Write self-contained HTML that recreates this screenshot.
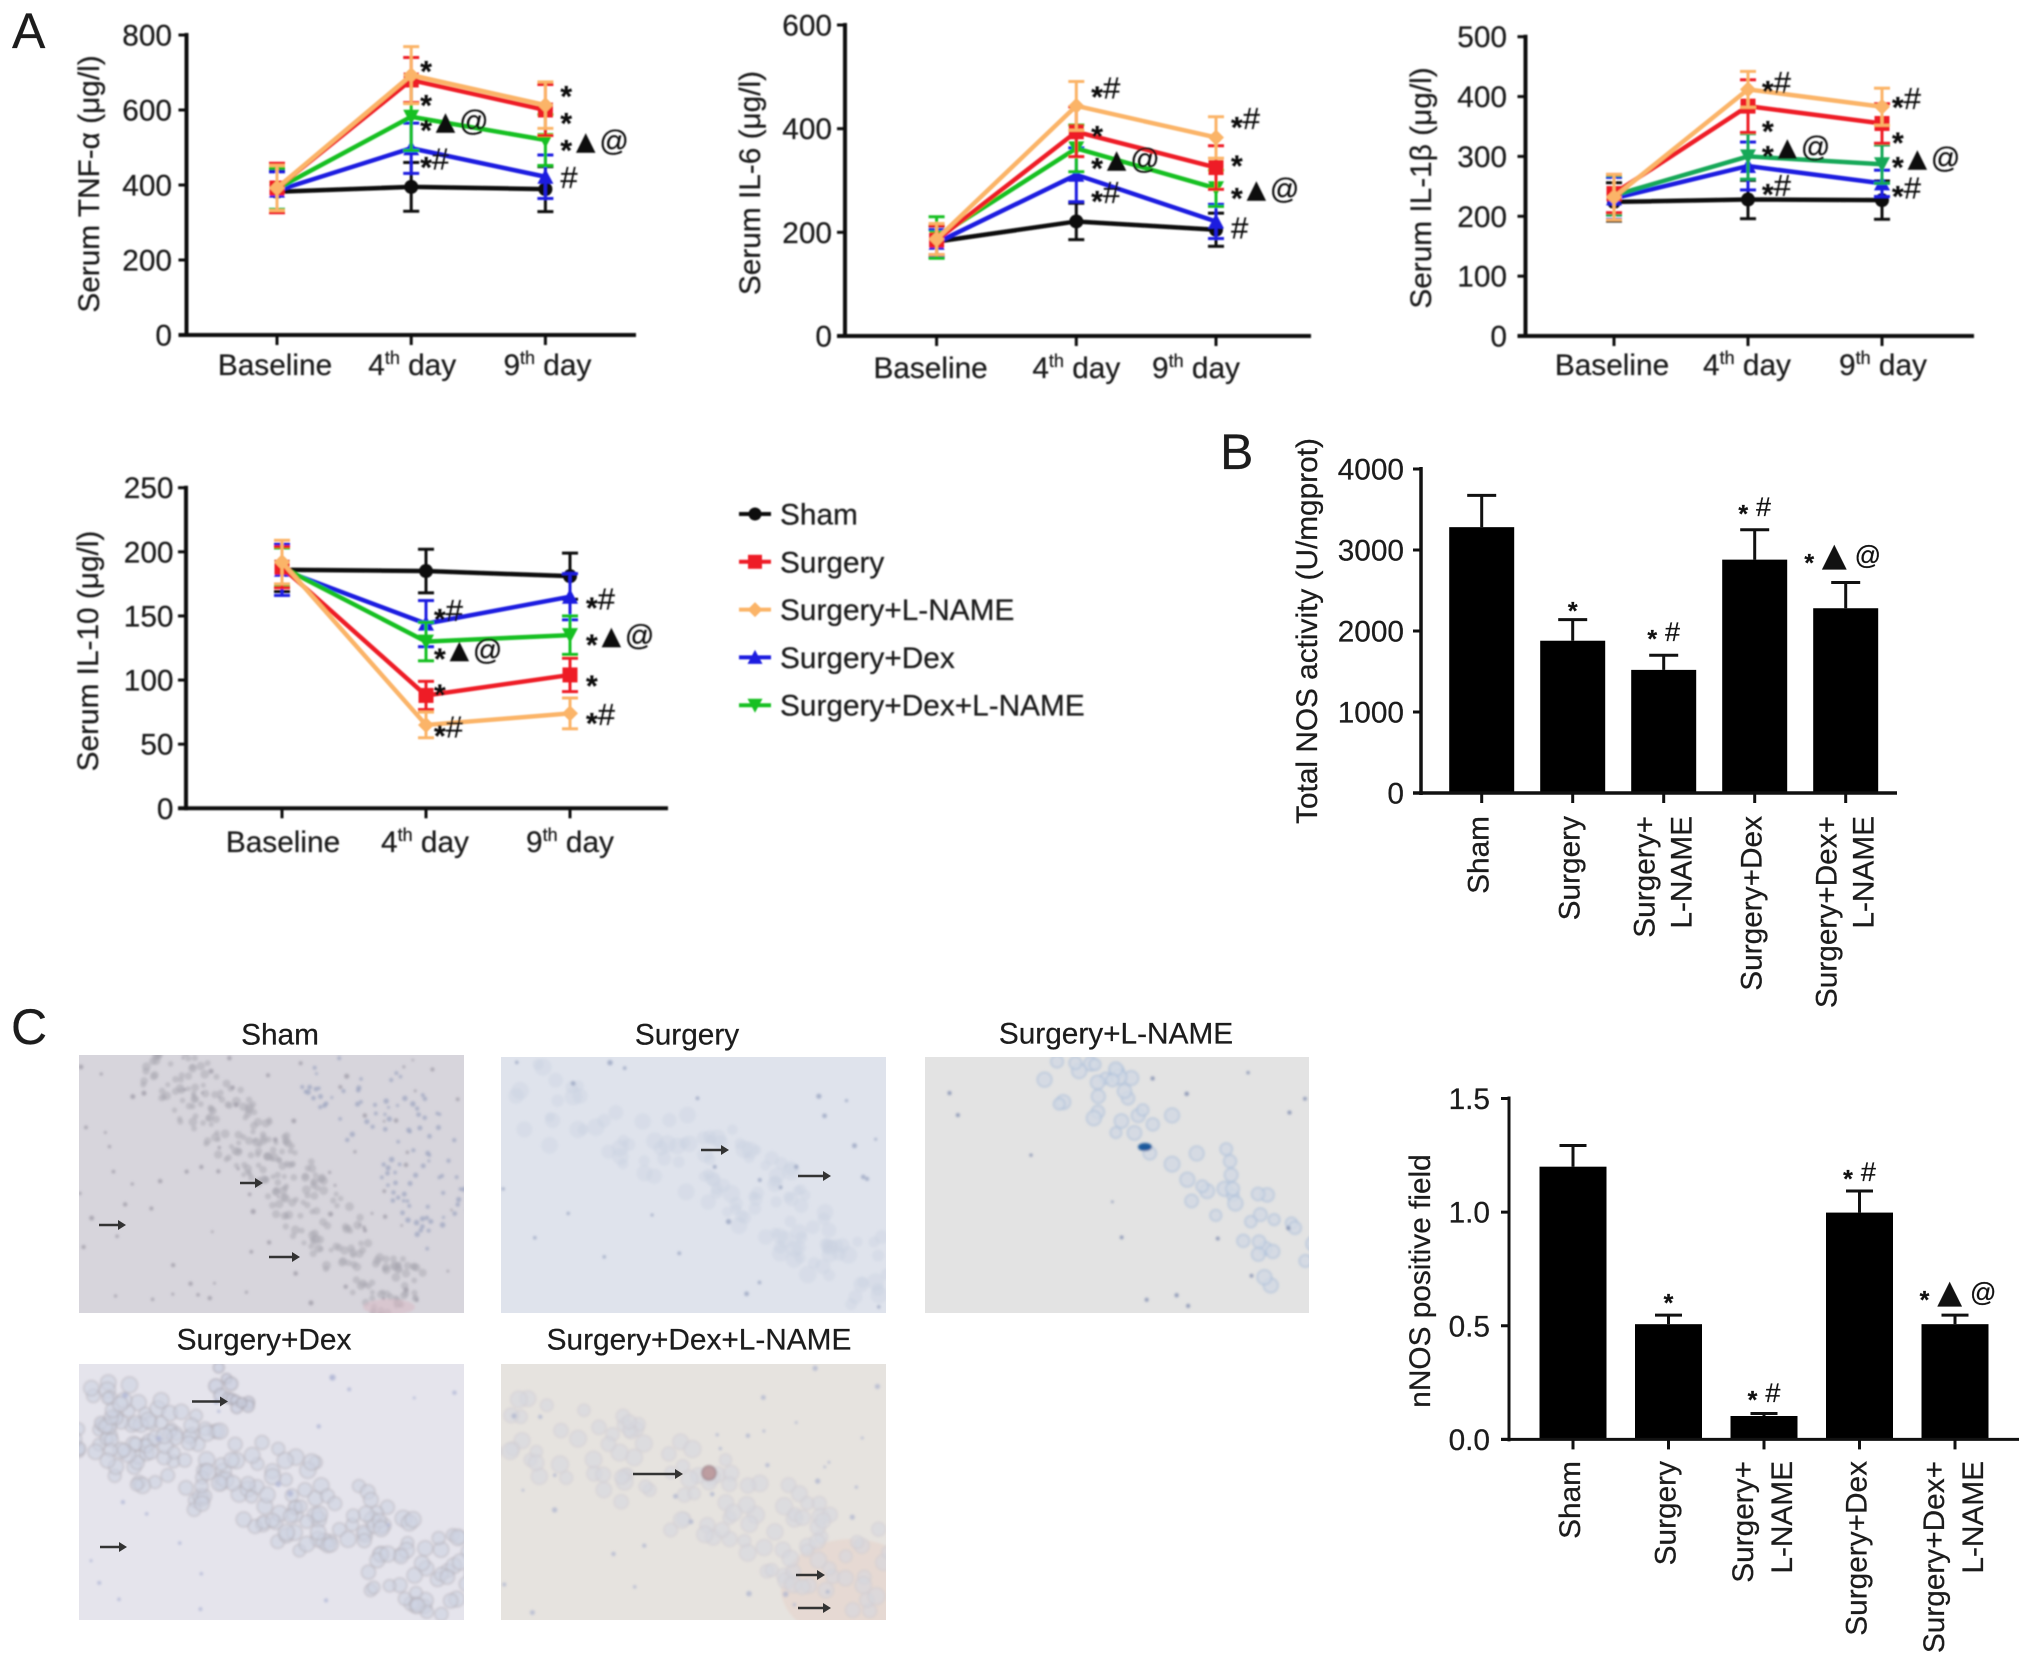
<!DOCTYPE html>
<html lang="en">
<head>
<meta charset="utf-8">
<title>Serum cytokines, NOS activity and nNOS staining</title>
<style>
html,body{margin:0;padding:0;background:#fff;width:2032px;height:1664px;overflow:hidden}
svg{display:block}
text{font-family:"Liberation Sans",Arial,sans-serif;fill:#1c1c1c;stroke:#1c1c1c;stroke-width:0.25px}
</style>
</head>
<body>
<svg id="figure" xmlns="http://www.w3.org/2000/svg" width="2032" height="1664" viewBox="0 0 2032 1664">
<defs>
<filter id="soft" x="-5%" y="-5%" width="110%" height="110%"><feGaussianBlur stdDeviation="0.7"/></filter>
<filter id="softer" x="-5%" y="-5%" width="110%" height="110%"><feGaussianBlur stdDeviation="1.2"/></filter>
</defs>
<rect width="2032" height="1664" fill="#fff"/>
<text x="12" y="48" font-size="50" fill="#111">A</text>
<text x="1220" y="469" font-size="50" fill="#111">B</text>
<text x="11" y="1044" font-size="50" fill="#111">C</text>
</svg>
<script>
// ---------- chart data ----------
const lineCategories = ['Baseline', '4th day', '9th day'];
const seriesNames = ['Sham', 'Surgery', 'Surgery+L-NAME', 'Surgery+Dex', 'Surgery+Dex+L-NAME'];

const tnfTicks = [0, 200, 400, 600, 800];
const tnfSham = [382, 395, 389];
const tnfShamErr = [55, 65, 60];
const tnfSurgery = [392, 680, 600];
const tnfSurgeryErr = [66, 60, 68];
const tnfLname = [392, 693, 613];
const tnfLnameErr = [60, 76, 62];
const tnfDex = [385, 498, 422];
const tnfDexErr = [50, 67, 58];
const tnfDexLname = [390, 582, 520];
const tnfDexLnameErr = [55, 90, 68];
const tnfNotes = [[1, 725, '*'], [1, 635, '*'], [1, 568, '*▲@'], [1, 469, '*#'], [2, 659, '*'], [2, 587, '*'], [2, 515, '*▲@'], [2, 419, '#']];

const il6Ticks = [0, 200, 400, 600];
const il6Sham = [182, 221, 205];
const il6ShamErr = [30, 35, 32];
const il6Surgery = [185, 394, 325];
const il6SurgeryErr = [28, 48, 42];
const il6Lname = [187, 444, 383];
const il6LnameErr = [30, 47, 40];
const il6Dex = [180, 311, 221];
const il6DexErr = [25, 52, 33];
const il6DexLname = [190, 362, 285];
const il6DexLnameErr = [40, 45, 35];
const il6Notes = [[1, 478, '*#'], [1, 401, '*'], [1, 340, '*▲@'], [1, 276, '*#'], [2, 419, '*#'], [2, 345, '*'], [2, 282, '*▲@'], [2, 208, '#']];

const il1Ticks = [0, 100, 200, 300, 400, 500];
const il1Sham = [224, 228, 227];
const il1ShamErr = [32, 32, 32];
const il1Surgery = [238, 384, 355];
const il1SurgeryErr = [32, 44, 33];
const il1Lname = [232, 412, 383];
const il1LnameErr = [38, 30, 31];
const il1Dex = [230, 284, 255];
const il1DexErr = [35, 40, 22];
const il1DexLname = [235, 300, 287];
const il1DexLnameErr = [33, 38, 32];
const il1Notes = [[1, 423, '*#'], [1, 356, '*'], [1, 314, '*▲@'], [1, 251, '*#'], [2, 396, '*#'], [2, 337, '*'], [2, 296, '*▲@'], [2, 247, '*#']];

const il10Ticks = [0, 50, 100, 150, 200, 250];
const il10Sham = [186, 185, 181];
const il10ShamErr = [17, 17, 18];
const il10Surgery = [188, 88, 104];
const il10SurgeryErr = [16, 11, 13];
const il10Lname = [192, 65, 74];
const il10LnameErr = [17, 10, 12];
const il10Dex = [186, 144, 165];
const il10DexErr = [20, 18, 18];
const il10DexLname = [188, 130, 135];
const il10DexLnameErr = [15, 15, 15];
const il10Notes = [[1, 154, '*#'], [1, 123, '*▲@'], [1, 95, '*'], [1, 63, '*#'], [2, 163, '*#'], [2, 134, '*▲@'], [2, 102, '*'], [2, 73, '*#']];

const barCategories = [['Sham'], ['Surgery'], ['Surgery+', 'L-NAME'], ['Surgery+Dex'], ['Surgery+Dex+', 'L-NAME']];

const nosTicks = [0, 1000, 2000, 3000, 4000];
const nosValues = [3282, 1880, 1520, 2881, 2281];
const nosErrors = [392, 260, 180, 369, 317];
const nosNotes = ['', '*', '*#', '*#', '*▲@'];
const nosNoteLevels = [0, 2333, 1988, 3531, 2926];

const nnosTicks = ['0.0', '0.5', '1.0', '1.5'];
const nnosValues = [1.2, 0.507, 0.103, 0.998, 0.507];
const nnosErrors = [0.093, 0.04, 0.011, 0.095, 0.04];
const nnosNotes = ['', '*', '*#', '*#', '*▲@'];
const nnosNoteLevels = [0, 0.631, 0.204, 1.176, 0.644];

// ---------- drawing helpers ----------
const NS = 'http://www.w3.org/2000/svg';
const root = document.getElementById('figure');
const FONT = 29.8;

function add(parent, tag, attrs, name) {
  const n = document.createElementNS(NS, tag);
  for (const k in attrs) n.setAttribute(k, attrs[k]);
  
  
  parent.appendChild(n);
  return n;
}
function label(parent, x, y, str, size, anchor, name) {
  const t = add(parent, 'text', {x: x, y: y, 'font-size': size, 'text-anchor': anchor}, name);
  t.textContent = str;
  return t;
}
function rotated(parent, x, y, str, size, anchor, name) {
  const t = add(parent, 'text', {transform: 'translate(' + x + ' ' + y + ') rotate(-90)', 'font-size': size, 'text-anchor': anchor}, name);
  t.textContent = str;
  return t;
}
function scale(d0, d1, r0, r1) {
  return function (v) { return r0 + (v - d0) * (r1 - r0) / (d1 - d0); };
}
function marker(parent, shape, x, y, color, s) {
  if (shape === 'circle') return add(parent, 'circle', {cx: x, cy: y, r: s, fill: color}, 'marker-circle');
  if (shape === 'square') return add(parent, 'rect', {x: x - s - 0.5, y: y - s - 0.5, width: 2 * s + 1, height: 2 * s + 1, fill: color}, 'marker-square');
  let pts;
  if (shape === 'diamond') pts = [[x, y - s - 1], [x + s + 1, y], [x, y + s + 1], [x - s - 1, y]];
  if (shape === 'up') pts = [[x, y - s - 1], [x + s + 1, y + s], [x - s - 1, y + s]];
  if (shape === 'down') pts = [[x, y + s + 1], [x + s + 1, y - s], [x - s - 1, y - s]];
  return add(parent, 'polygon', {points: pts.map(function (p) { return p.join(','); }).join(' '), fill: color}, 'marker-' + shape);
}
function note(parent, x, y, str, o, anchor) {
  const t = add(parent, 'text', {x: x, y: y, 'text-anchor': anchor}, 'significance-label');
  let prev = y;
  Array.from(str).forEach(function (ch, i) {
    const s = document.createElementNS(NS, 'tspan');
    let yy = y;
    let size = o.hash;
    if (ch === '*') { size = o.star; yy = y + 0.62 * size; s.setAttribute('font-weight', 'bold'); }
    if (ch === '#') { size = o.hash; yy = y + 0.33 * size; }
    if (ch === '▲') { size = o.tri; yy = y + 0.3 * size; s.setAttribute('style', 'font-family:"DejaVu Sans",sans-serif'); }
    if (ch === '@') { size = o.at; yy = y + 0.3 * size; }
    s.setAttribute('dy', yy - prev);
    prev = yy;
    s.setAttribute('font-size', size);
    s.setAttribute('fill', '#111');
    if (i > 0) {
      const g = ch === '#' ? (o.hashGap || 0) : o.gap;
      if (g) s.setAttribute('dx', g);
    }
    s.textContent = ch;
    
    
    t.appendChild(s);
  });
  return t;
}

const seriesStyles = [
  {color: '#111111', shape: 'circle'},
  {color: '#ee1c25', shape: 'square'},
  {color: '#fbb468', shape: 'diamond'},
  {color: '#1c1ce0', shape: 'up'},
  {color: '#19c020', shape: 'down'}
];
const drawOrder = [0, 3, 4, 1, 2];
const noteStyle = {star: 30, hash: 31, tri: 25, at: 29, gap: 4};

function lineChart(cfg) {
  const g = add(root, 'g', {filter: 'url(#soft)'}, cfg.name);
  const x = function (i) { return cfg.xStart + i * cfg.xStep; };
  const y = scale(0, cfg.ticks[cfg.ticks.length - 1], cfg.y0, cfg.yTop);
  // axes
  add(g, 'line', {x1: cfg.axisX, x2: cfg.axisX, y1: cfg.yTop - 2, y2: cfg.y0 + 2, stroke: '#111', 'stroke-width': 4}, 'y-axis');
  add(g, 'line', {x1: cfg.axisX - 8, x2: cfg.xEnd, y1: cfg.y0, y2: cfg.y0, stroke: '#111', 'stroke-width': 4}, 'x-axis');
  cfg.ticks.forEach(function (t) {
    add(g, 'line', {x1: cfg.axisX - 8, x2: cfg.axisX, y1: y(t), y2: y(t), stroke: '#111', 'stroke-width': 3}, 'y-tick');
    label(g, cfg.tickEnd, y(t) + 10.5, String(t), FONT, 'end', 'y-tick-label');
  });
  lineCategories.forEach(function (c, i) {
    add(g, 'line', {x1: x(i), x2: x(i), y1: cfg.y0, y2: cfg.y0 + 10, stroke: '#111', 'stroke-width': 3}, 'x-tick');
    const t = add(g, 'text', {x: x(i) + cfg.labelDx[i], y: cfg.labelY, 'font-size': FONT, 'text-anchor': 'middle'}, 'x-tick-label');
    const m = c.match(/^(\d)(th)( .*)$/);
    if (m) {
      t.appendChild(document.createTextNode(m[1]));
      const sup = document.createElementNS(NS, 'tspan');
      sup.setAttribute('dy', -11);
      sup.setAttribute('font-size', 18);
      
      
      sup.textContent = m[2];
      t.appendChild(sup);
      const rest = document.createElementNS(NS, 'tspan');
      rest.setAttribute('dy', 11);
      
      
      rest.textContent = m[3];
      t.appendChild(rest);
    } else {
      t.textContent = c;
    }
  });
  rotated(g, cfg.titleX, cfg.titleY, cfg.title, FONT, 'middle', 'y-axis-title');
  // series
  drawOrder.forEach(function (si) {
    const st = seriesStyles[si];
    const vals = cfg.values[si];
    const errs = cfg.errors[si];
    const color = (si === 4 && cfg.greenColor) ? cfg.greenColor : st.color;
    const sg = add(g, 'g', {}, 'series-' + seriesNames[si].toLowerCase().replace(/\+/g, '-'));
    vals.forEach(function (v, i) {
      const e = errs[i];
      add(sg, 'line', {x1: x(i), x2: x(i), y1: y(v - e), y2: y(v + e), stroke: color, 'stroke-width': 3}, 'error-bar');
      add(sg, 'line', {x1: x(i) - 8, x2: x(i) + 8, y1: y(v + e), y2: y(v + e), stroke: color, 'stroke-width': 3}, 'error-cap-upper');
      add(sg, 'line', {x1: x(i) - 8, x2: x(i) + 8, y1: y(v - e), y2: y(v - e), stroke: color, 'stroke-width': 3}, 'error-cap-lower');
    });
    add(sg, 'polyline', {points: vals.map(function (v, i) { return x(i) + ',' + y(v); }).join(' '), fill: 'none', stroke: color, 'stroke-width': 4.5}, 'series-line');
    vals.forEach(function (v, i) { marker(sg, st.shape, x(i), y(v), color, 7); });
  });
  // significance labels
  cfg.notes.forEach(function (n) {
    note(g, x(n[0]) + cfg.noteDx[n[0]], y(n[1]), n[2], noteStyle, 'start');
  });
}

function barChart(cfg) {
  const g = add(root, 'g', {}, cfg.name);
  const x = function (i) { return cfg.xStart + i * cfg.xStep; };
  const top = Number(cfg.ticks[cfg.ticks.length - 1]);
  const y = scale(0, top, cfg.y0, cfg.yTop);
  cfg.values.forEach(function (v, i) {
    const e = cfg.errors[i];
    add(g, 'line', {x1: x(i), x2: x(i), y1: y(v), y2: y(v + e), stroke: '#111', 'stroke-width': 3}, 'error-bar');
    add(g, 'line', {x1: x(i) - cfg.cap, x2: x(i) + cfg.cap, y1: y(v + e), y2: y(v + e), stroke: '#111', 'stroke-width': 3}, 'error-cap');
    add(g, 'rect', {x: x(i) - cfg.barW / 2, y: y(v), width: cfg.barW, height: cfg.y0 - y(v), fill: '#000'}, 'bar-' + cfg.labels[i].join('-').toLowerCase().replace(/\+/g, '-').replace(/--/g, '-'));
    add(g, 'line', {x1: x(i), x2: x(i), y1: cfg.y0, y2: cfg.y0 + 10, stroke: '#111', 'stroke-width': 3}, 'x-tick');
    const lines = cfg.labels[i];
    lines.forEach(function (ln, j) {
      const off = lines.length === 1 ? 7 : (j === 0 ? cfg.line1 : cfg.line2);
      rotated(g, x(i) + off, cfg.labelTop, ln, FONT, 'end', 'x-tick-label');
    });
    if (cfg.notes[i]) note(g, x(i) + (cfg.notes[i].length > 2 ? cfg.tripleDx : 0), y(cfg.levels[i]), cfg.notes[i], cfg.noteStyle, 'middle');
  });
  add(g, 'line', {x1: cfg.axisX, x2: cfg.axisX, y1: cfg.yTop - 2, y2: cfg.y0 + 2, stroke: '#111', 'stroke-width': cfg.sw}, 'y-axis');
  add(g, 'line', {x1: cfg.axisX - 8, x2: cfg.xEnd, y1: cfg.y0, y2: cfg.y0, stroke: '#111', 'stroke-width': cfg.sw}, 'x-axis');
  cfg.ticks.forEach(function (t) {
    const yy = y(Number(t));
    add(g, 'line', {x1: cfg.axisX - 8, x2: cfg.axisX, y1: yy, y2: yy, stroke: '#111', 'stroke-width': 3}, 'y-tick');
    label(g, cfg.tickEnd, yy + 10.5, String(t), FONT, 'end', 'y-tick-label');
  });
  rotated(g, cfg.titleX, cfg.titleY, cfg.title, FONT, 'middle', 'y-axis-title');
}

// ---------- line charts ----------
lineChart({
  name: 'tnf-alpha-chart', title: 'Serum TNF-α (μg/l)', ticks: tnfTicks,
  axisX: 186.5, tickEnd: 172, xStart: 277, xStep: 134.2, xEnd: 636, y0: 335, yTop: 35,
  labelY: 375, labelDx: [-2, 1, 2], titleX: 99, titleY: 184, noteDx: [0, 9, 15],
  values: [tnfSham, tnfSurgery, tnfLname, tnfDex, tnfDexLname],
  errors: [tnfShamErr, tnfSurgeryErr, tnfLnameErr, tnfDexErr, tnfDexLnameErr],
  notes: tnfNotes
});
lineChart({
  name: 'il-6-chart', title: 'Serum IL-6 (μg/l)', ticks: il6Ticks,
  axisX: 845, tickEnd: 832, xStart: 936.6, xStep: 139.7, xEnd: 1311, y0: 336, yTop: 25,
  labelY: 378, labelDx: [-6, 0, -20], titleX: 760, titleY: 183, noteDx: [0, 15, 15],
  values: [il6Sham, il6Surgery, il6Lname, il6Dex, il6DexLname],
  errors: [il6ShamErr, il6SurgeryErr, il6LnameErr, il6DexErr, il6DexLnameErr],
  notes: il6Notes
});
lineChart({
  name: 'il-1-beta-chart', title: 'Serum IL-1β (μg/l)', ticks: il1Ticks,
  axisX: 1525.5, tickEnd: 1507, xStart: 1614, xStep: 134, xEnd: 1974, y0: 336, yTop: 36.7,
  labelY: 375, labelDx: [-2, -1, 1], titleX: 1431, titleY: 188, noteDx: [0, 14, 10],
  values: [il1Sham, il1Surgery, il1Lname, il1Dex, il1DexLname],
  errors: [il1ShamErr, il1SurgeryErr, il1LnameErr, il1DexErr, il1DexLnameErr],
  notes: il1Notes, greenColor: '#18a858'
});
lineChart({
  name: 'il-10-chart', title: 'Serum IL-10 (μg/l)', ticks: il10Ticks,
  axisX: 186, tickEnd: 173.5, xStart: 282, xStep: 144, xEnd: 668, y0: 808.3, yTop: 487.7,
  labelY: 852, labelDx: [1, -1, 0], titleX: 98, titleY: 651, noteDx: [0, 8, 16],
  values: [il10Sham, il10Surgery, il10Lname, il10Dex, il10DexLname],
  errors: [il10ShamErr, il10SurgeryErr, il10LnameErr, il10DexErr, il10DexLnameErr],
  notes: il10Notes
});

// ---------- legend ----------
const legend = add(root, 'g', {filter: 'url(#soft)'}, 'legend');
seriesNames.forEach(function (nm, i) {
  const yy = 514 + i * 47.8;
  const entry = add(legend, 'g', {}, 'legend-entry');
  add(entry, 'line', {x1: 739, x2: 771, y1: yy, y2: yy, stroke: seriesStyles[i].color, 'stroke-width': 4}, 'legend-line');
  marker(entry, seriesStyles[i].shape, 755, yy, seriesStyles[i].color, 6.5);
  label(entry, 780, yy + 10.5, nm, FONT, 'start', 'legend-label');
});

// ---------- bar charts ----------
const barNoteStyle = {star: 25, hash: 27, tri: 32, at: 26, gap: 8, hashGap: 8};
barChart({
  name: 'total-nos-chart', title: 'Total NOS activity (U/mgprot)', ticks: nosTicks, labels: barCategories,
  axisX: 1421, tickEnd: 1404, xStart: 1481.7, xStep: 91, xEnd: 1897, y0: 793, yTop: 469, tripleDx: -3,
  barW: 65, cap: 14.5, sw: 3.5, labelTop: 816, line1: -9, line2: 28,
  titleX: 1317, titleY: 631, values: nosValues, errors: nosErrors,
  notes: nosNotes, levels: nosNoteLevels, noteStyle: barNoteStyle
});
barChart({
  name: 'nnos-chart', title: 'nNOS positive field', ticks: nnosTicks, labels: barCategories,
  axisX: 1509, tickEnd: 1490, xStart: 1573, xStep: 95.5, xEnd: 2019, y0: 1439.4, yTop: 1098.5, tripleDx: 3,
  barW: 67, cap: 13.5, sw: 3, labelTop: 1461, line1: -11, line2: 28,
  titleX: 1430, titleY: 1281, values: nnosValues, errors: nnosErrors,
  notes: nnosNotes, levels: nnosNoteLevels, noteStyle: barNoteStyle
});

// ---------- micrographs (procedural texture) ----------
let seed = 12345;
function rnd() { seed = (seed * 16807) % 2147483647; return seed / 2147483647; }
function along(path, t) {
  const n = path.length - 1;
  const f = t * n;
  const i = Math.min(Math.floor(f), n - 1);
  const u = f - i;
  const a = path[i];
  const b = path[i + 1];
  const dx = b[0] - a[0];
  const dy = b[1] - a[1];
  const len = Math.hypot(dx, dy) || 1;
  return {x: a[0] + dx * u, y: a[1] + dy * u, nx: -dy / len, ny: dx / len};
}
function cell(g, x, y, r, st) {
  add(g, 'circle', {cx: x, cy: y, r: r, fill: st.fill, stroke: st.stroke || 'none', 'stroke-width': st.stroke ? 1.5 : 0, opacity: st.op}, 'cell');
}
function band(g, path, width, count, rMin, rMax, st) {
  for (let i = 0; i < count; i++) {
    const p = along(path, rnd());
    const o = (rnd() - 0.5) * width;
    cell(g, p.x + p.nx * o, p.y + p.ny * o, rMin + rnd() * (rMax - rMin), st);
  }
}
function spread(g, w, h, count, rMin, rMax, st) {
  for (let i = 0; i < count; i++) cell(g, rnd() * w, rnd() * h, rMin + rnd() * (rMax - rMin), st);
}
const defs = root.querySelector('defs');
function micrograph(name, title, x, y, w, h, bg, titleX, titleY, draw, arrows) {
  const clipId = 'clip-' + name;
  const cp = document.createElementNS(NS, 'clipPath');
  cp.setAttribute('id', clipId);
  const cr = document.createElementNS(NS, 'rect');
  cr.setAttribute('width', w);
  cr.setAttribute('height', h);
  cp.appendChild(cr);
  defs.appendChild(cp);
  const fig = add(root, 'g', {}, 'micrograph-' + name);
  label(fig, titleX, titleY + 10.5, title, FONT, 'middle', 'micrograph-title');
  const g = add(fig, 'g', {transform: 'translate(' + x + ' ' + y + ')', 'clip-path': 'url(#' + clipId + ')'}, 'micrograph-image');
  add(g, 'rect', {width: w, height: h, fill: bg}, 'tissue-background');
  const tex = add(g, 'g', {filter: 'url(#softer)'}, 'tissue-cells');
  draw(tex);
  arrows.forEach(function (a) {
    const ax = add(fig, 'g', {}, 'arrow');
    add(ax, 'line', {x1: a[0], x2: a[1] - 6, y1: a[2], y2: a[2], stroke: '#333', 'stroke-width': 2.5}, 'arrow-shaft');
    add(ax, 'polygon', {points: (a[1] - 8) + ',' + (a[2] - 5) + ' ' + a[1] + ',' + a[2] + ' ' + (a[1] - 8) + ',' + (a[2] + 5), fill: '#333'}, 'arrow-head');
  });
}
micrograph('sham', 'Sham', 79, 1055, 385, 258, '#d7d5dc', 280, 1034, function (g) {
  band(g, [[76, 0], [168, 85], [242, 165], [334, 254]], 66, 300, 2.5, 4.5, {fill: '#aaa8b2', op: 0.5});
  band(g, [[250, 0], [330, 90], [385, 170]], 90, 110, 1.5, 2.8, {fill: '#9da6c0', op: 0.75});
  spread(g, 385, 258, 80, 1.2, 2.6, {fill: '#a09ea9', op: 0.8});
  add(g, 'ellipse', {cx: 310, cy: 252, rx: 26, ry: 8, fill: '#d8bcc6', opacity: 0.6}, 'stain-patch');
}, [[240, 263, 1183], [99, 126, 1225], [269, 300, 1257]]);
micrograph('surgery', 'Surgery', 501, 1057, 385, 256, '#dfe3ec', 687, 1034, function (g) {
  band(g, [[15, 36], [188, 91], [302, 163], [383, 235]], 80, 130, 5, 9, {fill: '#cbd2e0', op: 0.4});
  spread(g, 385, 256, 26, 1.4, 2.8, {fill: '#9aa5c2', op: 0.8});
}, [[701, 729, 1150], [798, 831, 1176]]);
micrograph('surgery-l-name', 'Surgery+L-NAME', 925, 1057, 384, 256, '#e3e3e3', 1116, 1033, function (g) {
  band(g, [[122, 7], [188, 43], [272, 103], [322, 160], [372, 220]], 70, 62, 5.5, 7.5, {fill: '#d2d9e4', stroke: '#adc0da', op: 0.8});
  spread(g, 384, 256, 16, 1.2, 2.4, {fill: '#7a88ac', op: 0.8});
  add(g, 'ellipse', {cx: 220, cy: 90, rx: 7, ry: 4, fill: '#1f5a9c'}, 'dark-nucleus');
}, []);
micrograph('surgery-dex', 'Surgery+Dex', 79, 1364, 385, 256, '#e5e4ec', 264, 1339, function (g) {
  band(g, [[1, 47], [93, 89], [237, 144], [385, 229]], 92, 230, 6, 8, {fill: '#ced3e2', stroke: '#b4b0b8', op: 0.6});
  band(g, [[135, 5], [165, 50]], 24, 12, 5, 7, {fill: '#c9cede', stroke: '#a8a4ae', op: 0.7});
  spread(g, 385, 256, 22, 1.5, 3.2, {fill: '#b2b8d6', op: 0.8});
}, [[192, 228, 1401.5], [100, 127, 1547]]);
micrograph('surgery-dex-l-name', 'Surgery+Dex+L-NAME', 501, 1364, 385, 256, '#e6e3df', 699, 1339, function (g) {
  add(g, 'ellipse', {cx: 350, cy: 225, rx: 70, ry: 50, fill: '#e6d8d2', opacity: 0.9}, 'stain-patch');
  band(g, [[0, 51], [130, 102], [262, 157], [384, 216]], 92, 120, 6, 8.5, {fill: '#d6d8df', stroke: '#d0ccd2', op: 0.6});
  spread(g, 385, 256, 32, 1.4, 2.8, {fill: '#b2b8d0', op: 0.8});
  add(g, 'circle', {cx: 208, cy: 109, r: 7, fill: '#bd9da0', stroke: '#a08890', 'stroke-width': 1.5}, 'stained-neuron');
}, [[633, 683, 1474], [796, 825, 1575], [798, 831, 1608]]);
</script>
</body>
</html>
